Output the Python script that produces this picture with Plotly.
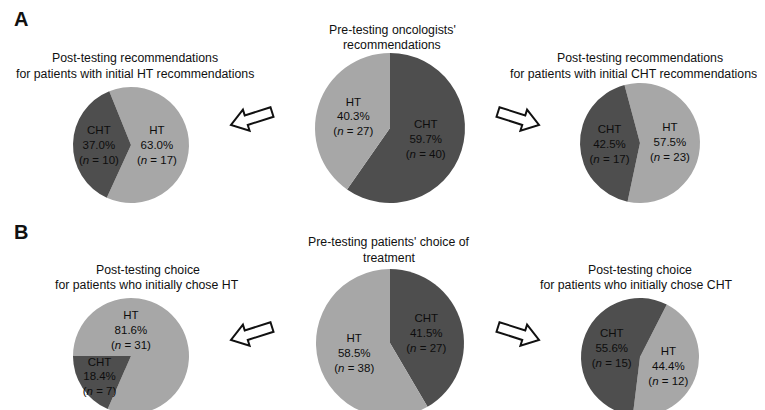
import math
import plotly.graph_objects as go

W, H = 765, 410

# panel A: oncologists' recommendations
pre_onc_labels = ["CHT", "HT"]
pre_onc_values = [40, 27]
post_ht_rec_labels = ["HT", "CHT"]
post_ht_rec_values = [17, 10]
post_cht_rec_labels = ["HT", "CHT"]
post_cht_rec_values = [23, 17]

# panel B: patients' choice
pre_pat_labels = ["CHT", "HT"]
pre_pat_values = [27, 38]
post_ht_choice_labels = ["HT", "CHT"]
post_ht_choice_values = [31, 7]
post_cht_choice_labels = ["HT", "CHT"]
post_cht_choice_values = [12, 15]

colors = {"CHT": "#4e4e4e", "HT": "#a7a7a7"}
font = "Liberation Sans, Arial, sans-serif"


def px_box(cx, cy, r):
    # pixel centre/radius -> paper domain
    return dict(x=[(cx - r) / W, (cx + r) / W], y=[1 - (cy + r) / H, 1 - (cy - r) / H])


def pie(labels, values, cx, cy, r, rot):
    return go.Pie(
        labels=labels, values=values, sort=False, direction="clockwise",
        rotation=rot, domain=px_box(cx, cy, r),
        marker=dict(colors=[colors[l] for l in labels], line=dict(width=0)),
        texttemplate="%{label}<br>%{percent:.1%}<br>(<i>n</i> = %{value})",
        textposition="inside", insidetextorientation="horizontal",
        insidetextfont=dict(family=font, size=11.5, color="#0d0d0d"),
        showlegend=False, hoverinfo="skip",
    )


fig = go.Figure()
fig.add_trace(pie(post_ht_rec_labels, post_ht_rec_values, 123, 137, 58, -22))
fig.add_trace(pie(pre_onc_labels, pre_onc_values, 382, 120, 75, 0))
fig.add_trace(pie(post_cht_rec_labels, post_cht_rec_values, 632, 135, 60, -15))
fig.add_trace(pie(post_ht_choice_labels, post_ht_choice_values, 123, 348, 58, 270))
fig.add_trace(pie(pre_pat_labels, pre_pat_values, 382, 335, 74, 0))
fig.add_trace(pie(post_cht_choice_labels, post_cht_choice_values, 632, 349, 59, 27))

# title lines: text, centre x, centre y (pixels)
titles = [
    ("Post-testing recommendations", 127, 50),
    ("for patients with initial HT recommendations", 127, 66),
    ("Pre-testing oncologists'", 384, 22),
    ("recommendations", 384, 37),
    ("Post-testing recommendations", 632, 50),
    ("for patients with initial CHT recommendations", 625, 66),
    ("Post-testing choice", 140, 262),
    ("for patients who initially chose HT", 139, 277),
    ("Pre-testing patients' choice of", 381, 234),
    ("treatment", 381, 250),
    ("Post-testing choice", 632, 262),
    ("for patients who initially chose CHT", 628, 277),
]
for txt, x, y in titles:
    fig.add_annotation(text=txt, x=x / W, y=1 - y / H, xref="paper", yref="paper",
                       showarrow=False, font=dict(family=font, size=12.3, color="#111"),
                       xanchor="center", yanchor="middle")

for txt, y in [("A", 11), ("B", 224)]:
    fig.add_annotation(text="<b>%s</b>" % txt, x=4 / W, y=1 - y / H, xref="paper", yref="paper",
                       showarrow=False, font=dict(family=font, size=20, color="#111"),
                       xanchor="left", yanchor="middle")


def hollow_arrow(tail, tip, shaft=5, head_w=11, head_l=16):
    dx, dy = tip[0] - tail[0], tip[1] - tail[1]
    L = math.hypot(dx, dy)
    ux, uy = dx / L, dy / L
    nx, ny = -uy, ux
    bx, by = tip[0] - ux * head_l, tip[1] - uy * head_l
    pts = [
        (tail[0] + nx * shaft, tail[1] + ny * shaft),
        (bx + nx * shaft, by + ny * shaft),
        (bx + nx * head_w, by + ny * head_w),
        tip,
        (bx - nx * head_w, by - ny * head_w),
        (bx - nx * shaft, by - ny * shaft),
        (tail[0] - nx * shaft, tail[1] - ny * shaft),
    ]
    path = "M " + " L ".join("%.5f,%.5f" % (x / W, 1 - y / H) for x, y in pts) + " Z"
    fig.add_shape(type="path", path=path, xref="paper", yref="paper",
                  line=dict(color="#111", width=2), fillcolor="white")


hollow_arrow((264, 104), (223, 117))
hollow_arrow((490, 104), (531, 117))
hollow_arrow((264, 319), (223, 332))
hollow_arrow((490, 319), (531, 332))

fig.update_layout(width=W, height=H, margin=dict(l=0, r=0, t=0, b=0),
                  paper_bgcolor="white", plot_bgcolor="white",
                  uniformtext=dict(minsize=11.5, mode="show"))

fig.write_html("out.html")
